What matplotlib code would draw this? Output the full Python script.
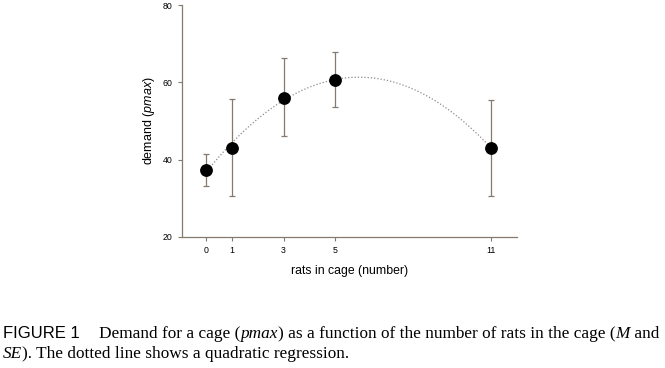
import matplotlib
matplotlib.use("Agg")
import matplotlib.pyplot as plt
import numpy as np

rats = [0, 1, 3, 5, 11]
demand = [37.4, 43.1, 56.1, 60.6, 43.1]
err_hi = [41.6, 55.8, 66.4, 67.9, 55.5]
err_lo = [33.3, 30.6, 46.2, 53.6, 30.7]
yticks = [20, 40, 60, 80]

AX_COLOR = "#857a70"
plt.rcParams["mathtext.fontset"] = "custom"
plt.rcParams["mathtext.it"] = "Liberation Sans:italic"
plt.rcParams["mathtext.rm"] = "Liberation Sans"

fig = plt.figure(figsize=(6.65, 3.68), dpi=100)
ax = fig.add_axes([0.273, 0.356, 0.504, 0.630])

# quadratic regression through the means
coef = np.polyfit(rats, demand, 2)
xs = np.linspace(0, 11, 200)
ax.plot(xs, np.polyval(coef, xs), linestyle=(0, (1, 1.6)), color="#8c8c8c", linewidth=0.9, zorder=1)

d = np.array(demand)
yerr = [d - np.array(err_lo), np.array(err_hi) - d]
ax.errorbar(rats, demand, yerr=yerr, fmt="none", ecolor=AX_COLOR, elinewidth=0.9,
            capsize=2.2, capthick=0.9, zorder=2)
ax.plot(rats, demand, "o", color="black", markersize=8.2, zorder=3)

ax.set_xlim(-0.94, 12.0)
ax.set_ylim(20, 80)
ax.set_xticks(rats)
ax.set_yticks(yticks)
for side in ("top", "right"):
    ax.spines[side].set_visible(False)
for side in ("left", "bottom"):
    ax.spines[side].set_color(AX_COLOR)
    ax.spines[side].set_linewidth(0.9)
ax.tick_params(colors=AX_COLOR, labelcolor="black", labelsize=6.3, length=3, width=0.8,
               direction="out")
for lab in ax.get_xticklabels() + ax.get_yticklabels():
    lab.set_family("Liberation Sans")

ax.set_xlabel("rats in cage (number)", family="Liberation Sans", fontsize=8.8, labelpad=7)
ax.set_ylabel("demand ($\\mathit{pmax}$)", family="Liberation Sans", fontsize=9, labelpad=4)

# caption with mixed fonts, laid out piece by piece
fig.canvas.draw()
renderer = fig.canvas.get_renderer()
W, H = fig.bbox.width, fig.bbox.height
CAP = 12.4


def put(x_px, y_px, s, size=CAP, **kw):
    t = fig.text(x_px / W, 1 - y_px / H, s, fontsize=size, va="baseline", ha="left", **kw)
    bb = t.get_window_extent(renderer)
    return x_px + bb.width


serif = dict(family="Liberation Serif")
serif_it = dict(family="Liberation Serif", style="italic")

put(3, 337.5, "FIGURE 1", size=12, family="Liberation Sans")
x = 99
for s, st in [("Demand for a cage (", serif), ("pmax", serif_it),
              (") as a function of the number of rats in the cage (", serif),
              ("M", serif_it), (" and", serif)]:
    x = put(x, 337.5, s, **st)
x = 3
for s, st in [("SE", serif_it), ("). The dotted line shows a quadratic regression.", serif)]:
    x = put(x, 358, s, **st)

fig.savefig("out.png", dpi=100)
